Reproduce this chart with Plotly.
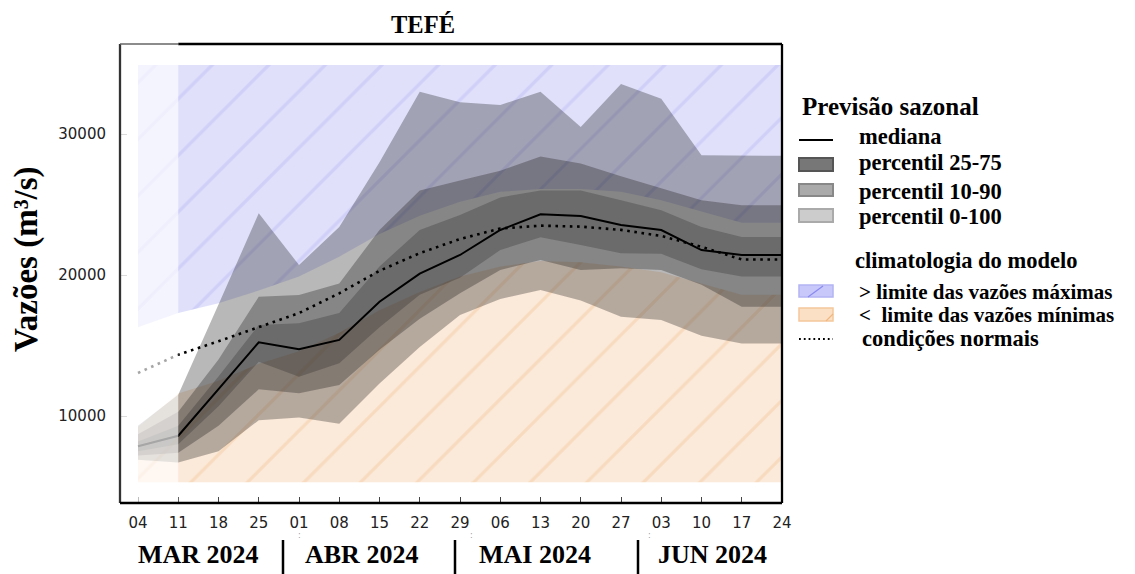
import plotly.graph_objects as go
from datetime import datetime, timedelta

# ---------------- data ----------------
dates = ["2024-03-04", "2024-03-11", "2024-03-18", "2024-03-25", "2024-04-01", "2024-04-08",
         "2024-04-15", "2024-04-22", "2024-04-29", "2024-05-06", "2024-05-13", "2024-05-20",
         "2024-05-27", "2024-06-03", "2024-06-10", "2024-06-17", "2024-06-24"]
tick_labels = ["04", "11", "18", "25", "01", "08", "15", "22", "29", "06", "13", "20", "27",
               "03", "10", "17", "24"]

median = [7850, 8600, 11900, 15230, 14730, 15400, 18100, 20100, 21420, 23190, 24300, 24180,
          23550, 23190, 21770, 21420, 21420]
normal = [13050, 14350, 15300, 16300, 17300, 18700, 20300, 21550, 22550, 23300, 23500, 23430,
          23200, 22770, 22000, 21100, 21100]
p100 = [9300, 11500, 17900, 24380, 20710, 23400, 28000, 33000, 32250, 32050, 33000, 30500,
        33550, 32500, 28500, 28450, 28450]
p90 = [8700, 10300, 14000, 18460, 18580, 19400, 23200, 26000, 26700, 27400, 28400, 27900,
       27000, 26150, 25300, 24950, 24950]
p75 = [8200, 9300, 12800, 16450, 16570, 17300, 20600, 23200, 24250, 25500, 26000, 26000,
       25300, 24600, 23400, 22700, 22700]
p25 = [7500, 8000, 10700, 13850, 12790, 13740, 16300, 18600, 19800, 21770, 22670, 22130,
       21540, 21500, 20400, 19900, 19900]
p10 = [7200, 7400, 9300, 11890, 11610, 12200, 14700, 16900, 18700, 20360, 21060, 20360,
       20480, 20360, 19300, 17750, 17750]
p0 = [6900, 6700, 7500, 9700, 9900, 9450, 12300, 14900, 17160, 18300, 18940, 18200,
      17040, 16800, 15700, 15150, 15150]
lim_max = [16300, 17300, 18000, 18900, 19900, 21300, 22900, 24200, 25200, 25900, 26100, 26100,
           25900, 25300, 24500, 23700, 23700]
lim_min = [9200, 11600, 12500, 13700, 14600, 15900, 17500, 18800, 19900, 20600, 21000, 20900,
           20600, 20200, 19400, 18600, 18600]
clim_top = 34900
clim_bottom = 5300

month_labels = ["MAR 2024", "ABR 2024", "MAI 2024", "JUN 2024"]
month_starts = ["2024-04-01", "2024-05-01", "2024-06-01"]

# ---------------- layout helpers (reference pixel -> paper) ----------------
# the page body adds an 8px offset, so the figure is drawn 8px smaller/shifted
OFF = 8
L, R, T, B = 120, 782, 44, 503
W, H = 1135 - OFF, 574 - OFF


def px(x):
    return (x - L) / (R - L)


def py(y):
    return (B - y) / (B - T)


x_left = (datetime(2024, 3, 4) - timedelta(days=3.13)).strftime("%Y-%m-%d %H:%M")
x_right = "2024-06-24"

fig = go.Figure()


def band(upper, lower, **kw):
    return go.Scatter(x=dates + dates[::-1], y=list(upper) + list(lower)[::-1],
                      mode="lines", line=dict(width=0), fill="toself",
                      hoverinfo="skip", **kw)


# climatology areas (hatched)
fig.add_trace(band([clim_top] * len(dates), lim_max,
                   fillcolor="#e0e0fb",
                   fillpattern=dict(shape="/", bgcolor="#e0e0fb", fgcolor="#bdbdf5",
                                    size=40, solidity=0.08)))
fig.add_trace(band(lim_min, [clim_bottom] * len(dates),
                   fillcolor="#fbe9d9",
                   fillpattern=dict(shape="/", bgcolor="#fbe9d9", fgcolor="#f5cda5",
                                    size=40, solidity=0.08)))

# forecast percentile bands
fig.add_trace(band(p100, p0, fillcolor="rgba(20,20,20,0.30)"))
fig.add_trace(band(p90, p10, fillcolor="rgba(20,20,20,0.30)"))
fig.add_trace(band(p75, p25, fillcolor="rgba(20,20,20,0.24)"))

# normal conditions
fig.add_trace(go.Scatter(x=dates, y=normal, mode="lines",
                         line=dict(color="black", width=2.6, dash="2.6px,4.6px"),
                         hoverinfo="skip"))
# median
fig.add_trace(go.Scatter(x=dates, y=median, mode="lines",
                         line=dict(color="black", width=2), hoverinfo="skip"))

shapes = []
# faded past region
shapes.append(dict(type="rect", xref="x", yref="paper", x0=x_left, x1="2024-03-11",
                   y0=0, y1=1, fillcolor="rgba(255,255,255,0.65)", line=dict(width=0),
                   layer="above"))
# frame
shapes.append(dict(type="line", xref="paper", yref="paper", x0=0, x1=0, y0=0, y1=1,
                   line=dict(color="#333333", width=2.3), layer="above"))
shapes.append(dict(type="line", xref="paper", yref="paper", x0=0, x1=1, y0=0, y1=0,
                   line=dict(color="black", width=2.3), layer="above"))
shapes.append(dict(type="line", xref="paper", yref="paper", x0=1, x1=1, y0=0, y1=1,
                   line=dict(color="black", width=2.3), layer="above"))
shapes.append(dict(type="line", xref="x", yref="paper", x0="2024-03-11", x1=x_right, y0=1, y1=1,
                   line=dict(color="black", width=2.6), layer="above"))
shapes.append(dict(type="line", xref="x", yref="paper", x0=x_left, x1="2024-03-11", y0=1, y1=1,
                   line=dict(color="#666666", width=1.6), layer="above"))

# month separators
for xs in [283, 455, 638]:
    shapes.append(dict(type="line", xref="paper", yref="paper", x0=px(xs), x1=px(xs),
                       y0=py(540), y1=py(574), line=dict(color="black", width=2.5)))

# legend symbols
lx0, lx1 = px(799), px(833)
shapes.append(dict(type="line", xref="paper", yref="paper", x0=lx0, x1=lx1, y0=py(140), y1=py(140),
                   line=dict(color="black", width=2)))
for (ya, yb, fc, lc) in [(158, 171, "#777777", "#555555"),
                         (184, 196, "#aaaaaa", "#888888"),
                         (209, 222, "#cccccc", "#aaaaaa")]:
    shapes.append(dict(type="rect", xref="paper", yref="paper", x0=lx0, x1=lx1,
                       y0=py(yb), y1=py(ya), fillcolor=fc, line=dict(color=lc, width=2)))
shapes.append(dict(type="rect", xref="paper", yref="paper", x0=lx0, x1=lx1,
                   y0=py(297), y1=py(285), fillcolor="#c8c8fa", line=dict(color="#b4b4f4", width=1.5)))
shapes.append(dict(type="line", xref="paper", yref="paper", x0=px(808), x1=px(823),
                   y0=py(297), y1=py(286), line=dict(color="#8a8af0", width=1.2)))
shapes.append(dict(type="rect", xref="paper", yref="paper", x0=lx0, x1=lx1,
                   y0=py(321), y1=py(308), fillcolor="#fbe0c6", line=dict(color="#f5c89c", width=1.5)))
shapes.append(dict(type="line", xref="paper", yref="paper", x0=px(826), x1=px(833),
                   y0=py(321), y1=py(314), line=dict(color="#f0b880", width=1.2)))
shapes.append(dict(type="line", xref="paper", yref="paper", x0=lx0, x1=lx1, y0=py(339), y1=py(339),
                   line=dict(color="black", width=1.8, dash="1.8px,3px")))

serif = "Liberation Serif, Times New Roman, serif"
ann = []


def text(x, y, s, size, anchor="left", color="black", family=serif, **kw):
    ann.append(dict(x=px(x), y=py(y), xref="paper", yref="paper", text=s, showarrow=False,
                    xanchor=anchor, yanchor="middle", font=dict(family=family, size=size, color=color),
                    **kw))


text(423, 24, "<b>TEFÉ</b>", 24.5, anchor="center")
text(27, 259, "<b>Vazões (m³/s)</b>", 33, anchor="center", textangle=-90)

for lbl, xc in zip(month_labels, [198, 361, 535, 712]):
    text(xc, 554, "<b>" + lbl + "</b>", 26, anchor="center")

# tiny month-start marks under the tick labels
for ms in month_starts:
    ann.append(dict(x=ms, y=py(535), xref="x", yref="paper", text=":", showarrow=False,
                    xanchor="center", yanchor="middle",
                    font=dict(family="DejaVu Sans", size=8, color="#999999")))

LF = 22.5
text(800, 107, "<b>Previsão sazonal</b>", 25)
text(857, 137, "<b>mediana</b>", LF)
text(857, 162, "<b>percentil 25-75</b>", LF)
text(857, 191, "<b>percentil 10-90</b>", LF)
text(857, 216, "<b>percentil 0-100</b>", LF)
text(853, 260, "<b>climatologia do modelo</b>", LF)
text(857, 292, "<b>> limite das vazões máximas</b>", 21)
text(857, 315, "<b><  limite das vazões mínimas</b>", 21)
text(860, 338, "<b>condições normais</b>", LF)

fig.update_layout(
    width=W, height=H,
    margin=dict(l=L - OFF, r=(1135 - R), t=T - OFF, b=(574 - B), pad=0),
    paper_bgcolor="white", plot_bgcolor="white",
    showlegend=False,
    shapes=shapes, annotations=ann,
    xaxis=dict(type="date", range=[x_left, x_right], tickmode="array", tickvals=dates,
               ticktext=tick_labels, ticks="inside", ticklen=6, tickwidth=1.2, tickcolor="#444444",
               tickfont=dict(family="DejaVu Sans", size=15, color="#222222"),
               ticklabelstandoff=9,
               showgrid=False, zeroline=False, showline=False),
    yaxis=dict(range=[3830, 36383], tickmode="array", tickvals=[10000, 20000, 30000],
               ticktext=["10000", "20000", "30000"], ticks="inside", ticklen=7, tickwidth=1.2,
               tickcolor="#999999",
               tickfont=dict(family="DejaVu Sans", size=15, color="#222222"),
               ticklabelstandoff=13,
               showgrid=False, zeroline=False, showline=False),
)

fig.write_html("out.html")
